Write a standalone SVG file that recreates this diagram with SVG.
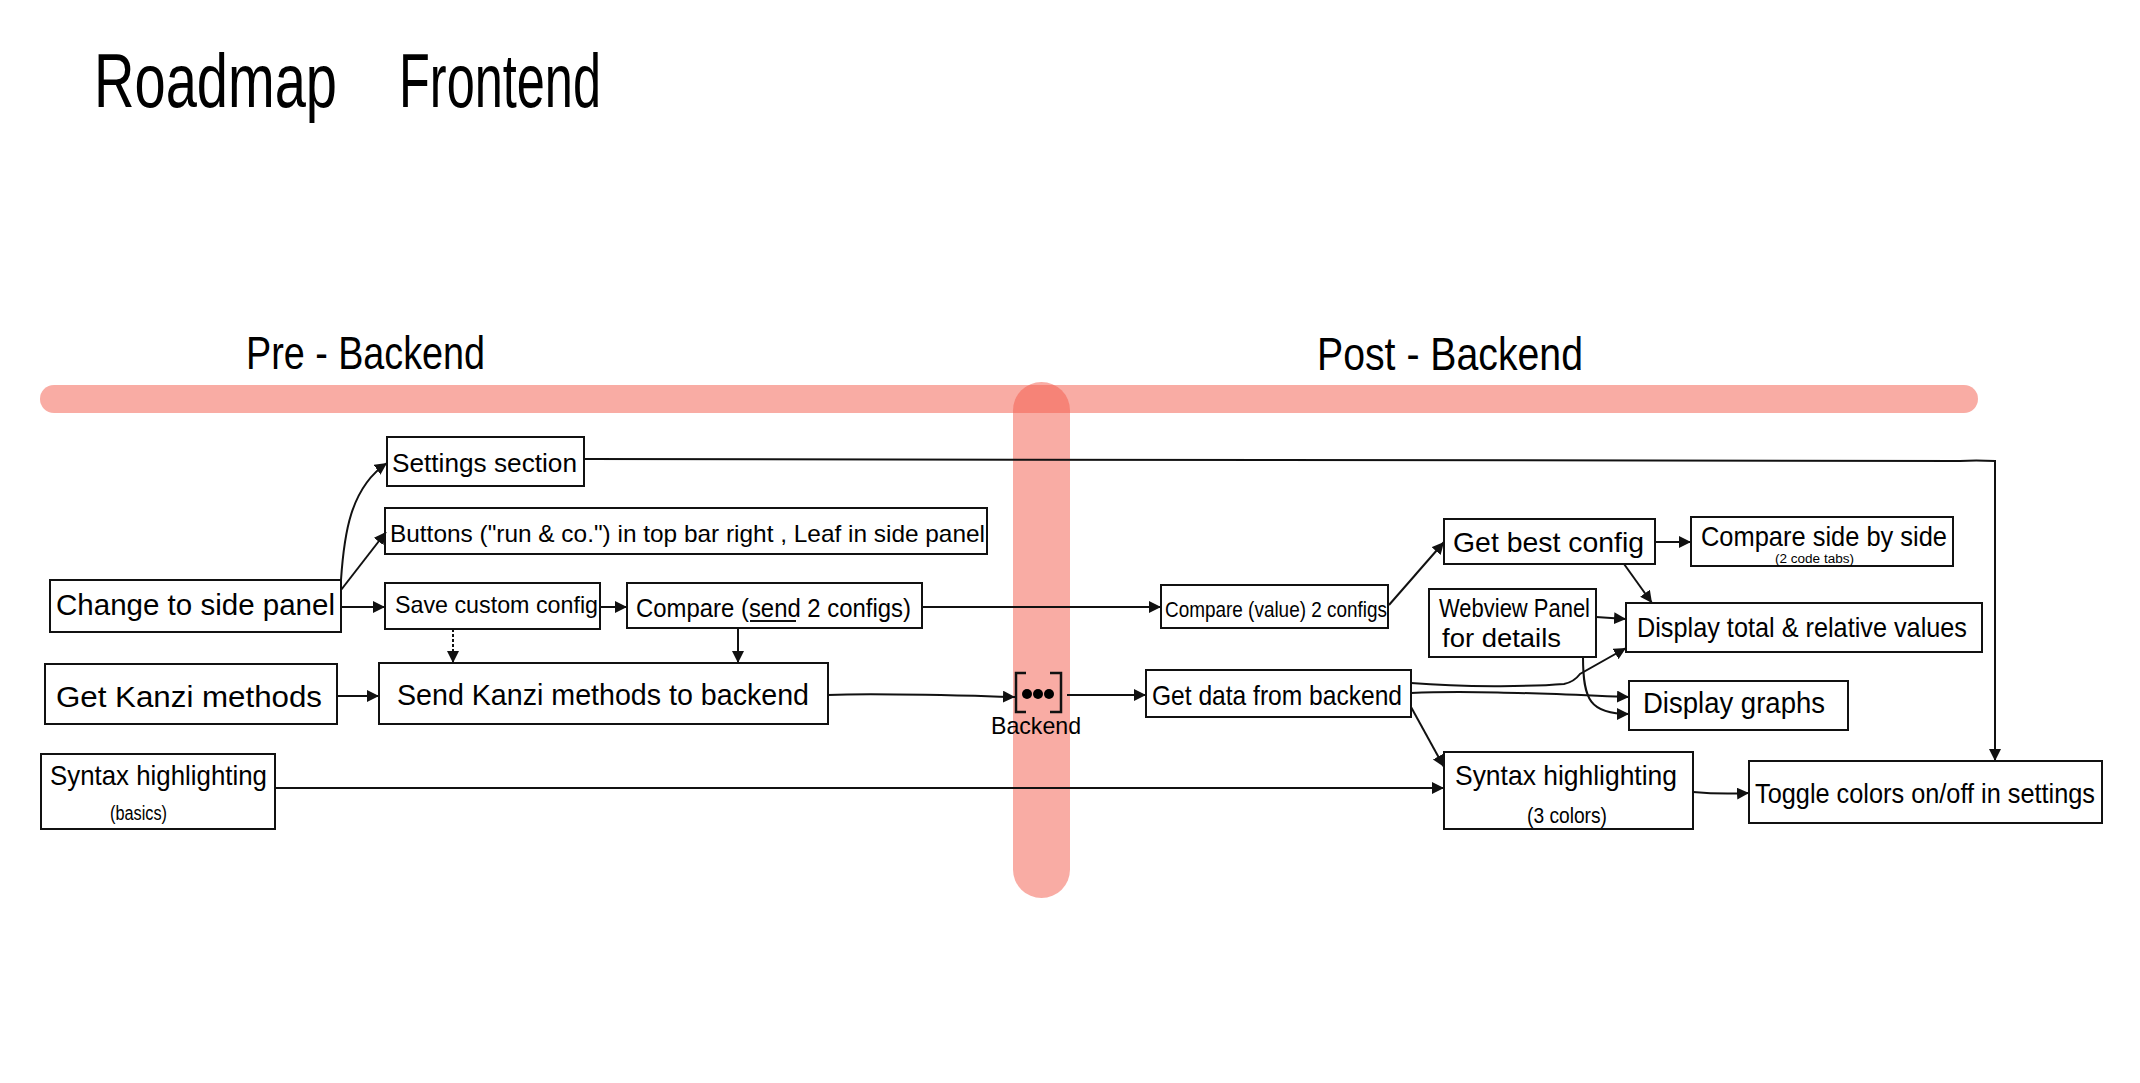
<svg xmlns="http://www.w3.org/2000/svg" width="2140" height="1083" viewBox="0 0 2140 1083">
<style>
text{font-family:"Liberation Sans",Arial,sans-serif;fill:#000;font-size:26px}
.box{fill:none;stroke:#111;stroke-width:2}
.c{fill:none;stroke:#111;stroke-width:2;marker-end:url(#a)}
.band{fill:#f4594a;opacity:.5}
</style>
<defs><marker id="a" markerUnits="userSpaceOnUse" markerWidth="14" markerHeight="14" refX="12" refY="6" orient="auto"><path d="M0 0L12 6L0 12Z" fill="#111"/></marker></defs>
<rect width="2140" height="1083" fill="#fff"/>
<g id="bands"><rect class="band" x="40" y="385" width="1938" height="28" rx="14"/><rect class="band" x="1013" y="382" width="57" height="516" rx="28.5"/></g>
<g id="titles">
<text x="94" y="107" style="font-size:76px" textLength="243" lengthAdjust="spacingAndGlyphs">Roadmap</text>
<text x="399" y="107" style="font-size:76px" textLength="202" lengthAdjust="spacingAndGlyphs">Frontend</text>
<text x="246" y="369" style="font-size:46px" textLength="239" lengthAdjust="spacingAndGlyphs">Pre - Backend</text>
<text x="1317" y="370" style="font-size:46px" textLength="266" lengthAdjust="spacingAndGlyphs">Post - Backend</text>
</g>
<g id="connectors">
<path class="c" d="M341 580C344 535 350 488 387 463"/>
<path class="c" d="M341 590L386 532"/>
<path class="c" d="M341 607H385"/>
<path class="c" d="M600 607H627"/>
<path class="c" d="M453 629V663" stroke-dasharray="3 2"/>
<path class="c" d="M738 628V663"/>
<path class="c" d="M337 696H379"/>
<path class="c" d="M828 695C880 693 940 695 1015 697"/>
<path class="c" d="M1067 695H1146"/>
<path class="c" d="M275 788H1444"/>
<path class="c" d="M584 459L1960 461Q1975 460 1995 461V761"/>
<path class="c" d="M922 607H1161"/>
<path class="c" d="M1389 605L1444 542"/>
<path class="c" d="M1655 542H1691"/>
<path class="c" d="M1624 564L1652 603"/>
<path class="c" d="M1596 617L1626 619"/>
<path class="c" d="M1411 683C1470 688 1540 686 1564 684Q1574 682 1580 674L1626 648"/>
<path class="c" d="M1411 693C1470 690 1550 694 1629 697"/>
<path class="c" d="M1583 657C1583 700 1590 714 1629 714"/>
<path class="c" d="M1411 707L1444 767"/>
<path class="c" d="M1693 792C1715 794 1730 794 1749 793"/>
</g>
<g id="settings"><rect class="box" x="387" y="437" width="197" height="49"/><text x="392" y="472" textLength="185" lengthAdjust="spacingAndGlyphs">Settings section</text></g>
<g id="buttons"><rect class="box" x="385" y="508" width="602" height="46"/><text x="390" y="542" style="font-size:24px" textLength="595" lengthAdjust="spacingAndGlyphs">Buttons ("run &amp; co.") in top bar right , Leaf in side panel</text></g>
<g id="change"><rect class="box" x="50" y="580" width="291" height="52"/><text x="56" y="615" style="font-size:29px" textLength="279" lengthAdjust="spacingAndGlyphs">Change to side panel</text></g>
<g id="save"><rect class="box" x="385" y="583" width="215" height="46"/><text x="395" y="613" style="font-size:24px" textLength="203" lengthAdjust="spacingAndGlyphs">Save custom config</text></g>
<g id="compare"><rect class="box" x="627" y="583" width="295" height="45"/><text x="636" y="617" style="font-size:26px" textLength="275" lengthAdjust="spacingAndGlyphs">Compare (send 2 configs)</text><path d="M750 621H796" stroke="#111" stroke-width="2"/></g>
<g id="get-kanzi"><rect class="box" x="45" y="664" width="292" height="60"/><text x="56" y="707" style="font-size:30px" textLength="266" lengthAdjust="spacingAndGlyphs">Get Kanzi methods</text></g>
<g id="send-kanzi"><rect class="box" x="379" y="663" width="449" height="61"/><text x="397" y="705" style="font-size:30px" textLength="412" lengthAdjust="spacingAndGlyphs">Send Kanzi methods to backend</text></g>
<g id="syntax-basics"><rect class="box" x="41" y="754" width="234" height="75"/><text x="50" y="785" style="font-size:28px" textLength="217" lengthAdjust="spacingAndGlyphs">Syntax highlighting</text><text x="110" y="820" style="font-size:20px" textLength="57" lengthAdjust="spacingAndGlyphs">(basics)</text></g>
<g id="backend"><path d="M1026 673H1016V712H1026M1050 673H1061V712H1050" fill="none" stroke="#111" stroke-width="2.5"/><circle cx="1027" cy="694" r="5"/><circle cx="1038" cy="694" r="5"/><circle cx="1049" cy="694" r="5"/><text x="991" y="734" style="font-size:24px" textLength="90" lengthAdjust="spacingAndGlyphs">Backend</text></g>
<g id="compare-value"><rect class="box" x="1161" y="585" width="227" height="43"/><text x="1165" y="617" style="font-size:22px" textLength="222" lengthAdjust="spacingAndGlyphs">Compare (value) 2 configs</text></g>
<g id="get-best"><rect class="box" x="1444" y="519" width="211" height="45"/><text x="1453" y="552" style="font-size:28px" textLength="191" lengthAdjust="spacingAndGlyphs">Get best config</text></g>
<g id="compare-side"><rect class="box" x="1691" y="517" width="262" height="49"/><text x="1701" y="546" style="font-size:28px" textLength="246" lengthAdjust="spacingAndGlyphs">Compare side by side</text><text x="1775" y="563" style="font-size:12px" textLength="79" lengthAdjust="spacingAndGlyphs">(2 code tabs)</text></g>
<g id="webview"><rect class="box" x="1429" y="589" width="167" height="68"/><text x="1439" y="617" style="font-size:25px" textLength="151" lengthAdjust="spacingAndGlyphs">Webview Panel</text><text x="1442" y="647" style="font-size:25px" textLength="119" lengthAdjust="spacingAndGlyphs">for details</text></g>
<g id="display-total"><rect class="box" x="1626" y="603" width="356" height="49"/><text x="1637" y="637" style="font-size:28px" textLength="330" lengthAdjust="spacingAndGlyphs">Display total &amp; relative values</text></g>
<g id="get-data"><rect class="box" x="1146" y="670" width="265" height="47"/><text x="1152" y="705" style="font-size:28px" textLength="250" lengthAdjust="spacingAndGlyphs">Get data from backend</text></g>
<g id="display-graphs"><rect class="box" x="1629" y="681" width="219" height="49"/><text x="1643" y="713" style="font-size:30px" textLength="182" lengthAdjust="spacingAndGlyphs">Display graphs</text></g>
<g id="syntax-colors"><rect class="box" x="1444" y="752" width="249" height="77"/><text x="1455" y="785" style="font-size:28px" textLength="222" lengthAdjust="spacingAndGlyphs">Syntax highlighting</text><text x="1527" y="823" style="font-size:22px" textLength="80" lengthAdjust="spacingAndGlyphs">(3 colors)</text></g>
<g id="toggle"><rect class="box" x="1749" y="761" width="353" height="62"/><text x="1755" y="803" style="font-size:28px" textLength="340" lengthAdjust="spacingAndGlyphs">Toggle colors on/off in settings</text></g>
</svg>
